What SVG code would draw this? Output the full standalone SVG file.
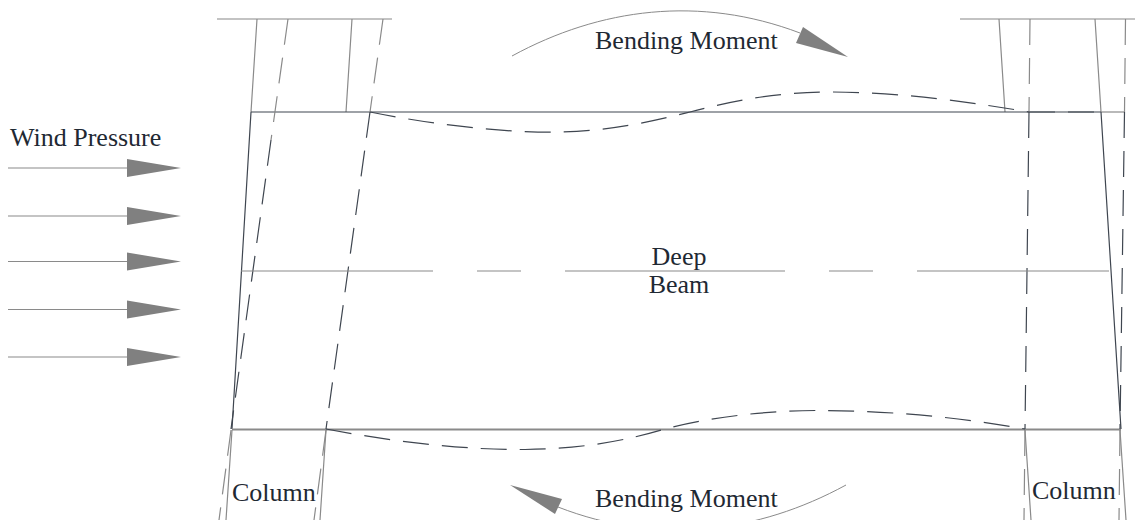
<svg xmlns="http://www.w3.org/2000/svg" width="1144" height="520" viewBox="0 0 1144 520">
<style>
text{font-family:"Liberation Serif","Times New Roman",serif;font-size:26px;fill:#1f2933}
.f{fill:none;stroke:#8a8a8a;stroke-width:1.2}
.d{fill:none;stroke:#3f4650;stroke-width:1.2}
.g{fill:none;stroke:#8a8a8a;stroke-width:1.2;stroke-dasharray:26 13}
.k{fill:none;stroke:#3f4650;stroke-width:1.2;stroke-dasharray:26 13}
.h{fill:#808080}
</style>
<rect width="1144" height="520" fill="#fff"/>
<g id="connectors">
<path class="f" style="stroke:#b0b0b0;stroke-width:1.6" d="M217 19H392M960 19H1135"/>
<path class="f" d="M257 19L251 112M352 19L346 112M999 19L1005 112M1095 19L1101 112"/>
<path class="f" d="M1101 112H1124.500"/>
<path class="d" d="M251 112H1101M251 112L232 429M1101 112L1121 429"/>
<path class="f" style="stroke-width:2" d="M232 429.500H1121"/>
<path class="f" d="M232 430L226 520M326 430L320 520M1025 430L1031 520M1120 430L1126 520"/>
<path class="g" d="M288 19L271 140M383 19L370 112M1030 19L1029 112M1125.500 19L1124.500 112"/>
<path class="k" d="M271 140L231 429M370 112L326 429M1029 112L1025 429M1124.500 112L1120 429"/>
<path class="g" d="M231 430L219 520M326 430L314 520M1025 430L1024 520M1120 430L1119 520"/>
<path class="k" d="M370 112C430 124 500 133 560 132C610 131 650 122 690 112C735 100 780 92 830 92C900 92 970 102 1029 112"/>
<path class="k" d="M326 429C390 441 460 450 525 449.500C580 449 625 441 665 429C715 416 770 410.500 820 410.500C890 410.500 965 418 1025 429"/>
<path class="k" d="M1029 112H1101"/>
<path class="f" stroke-dasharray="192 44 44 44 220 44 44 44 192" d="M241 271H1111"/>
<path class="f" d="M8 168H128M8 216H128M8 261.500H128M8 309.500H128M8 357H128"/>
<path class="f" style="stroke-width:1" d="M512 56C600 8 700 -5 800 33"/>
<path class="f" style="stroke-width:1" d="M846 485C758 533 658 546 558 507"/>
<path class="h" d="M127 159L181 168L127 177ZM127 207L181 216L127 225ZM127 252.500L181 261.500L127 270.500ZM127 300.500L181 309.500L127 318.500ZM127 348L181 357L127 366Z"/>
<path class="h" d="M803 27L848 57L796 43Z"/>
<path class="h" d="M510 485L562 499L555 514Z"/>
</g>
<g id="wind-pressure"><text x="10" y="146">Wind Pressure</text></g>
<g id="moment-top"><text x="595" y="49">Bending Moment</text></g>
<g id="moment-bottom"><text x="595" y="507">Bending Moment</text></g>
<g id="deep-beam"><text x="679" y="265" text-anchor="middle">Deep</text><text x="679" y="293" text-anchor="middle">Beam</text></g>
<g id="column-left"><text x="232" y="501">Column</text></g>
<g id="column-right"><text x="1032" y="499">Column</text></g>
</svg>
